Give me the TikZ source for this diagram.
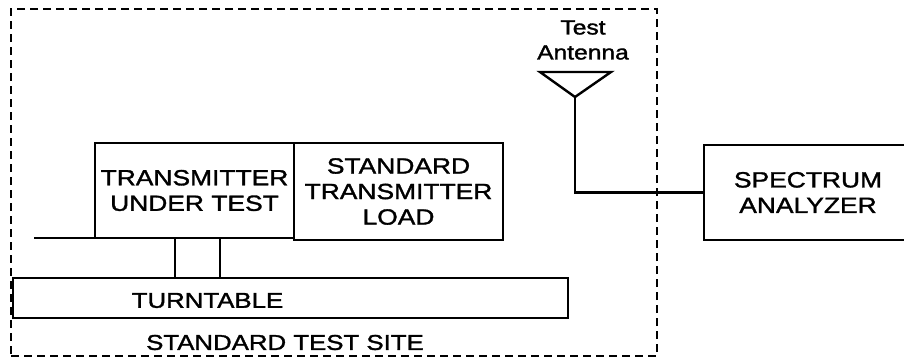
\documentclass[tikz,border=0pt]{standalone}
\usepackage{fontspec}
\setmainfont[FakeStretch=1.2,FakeBold=1.5]{Liberation Sans}
\begin{document}
\begin{tikzpicture}[x=1pt,y=-1pt,line width=2.4pt,outer sep=0pt,
  box/.style={draw,rectangle,inner sep=0pt,align=center,line width=2.4pt,
    font=\fontsize{22}{25.5}\selectfont},
  plain/.style={draw,rectangle,inner sep=0pt,line width=2.4pt},
  sitebox/.style={draw,rectangle,inner sep=0pt,line width=2.6pt,dash pattern=on 8pt off 5pt},
  lbl/.style={inner sep=0pt,align=center,font=\fontsize{21.5}{25}\selectfont}]
\useasboundingbox (0,0) rectangle (904,362);
\clip (0,0) rectangle (904,362);
% standard test site
\node[sitebox,minimum width=646pt,minimum height=347pt] (site) at (334,182.5) {};
\node[lbl] (sitelbl) at (285,342.5) {STANDARD TEST SITE};
% turntable
\node[plain,minimum width=555pt,minimum height=40pt] (tt) at (290.5,298) {};
\node[lbl] (ttlbl) at (207.5,300.5) {TURNTABLE};
% transmitter under test
\node[box,minimum width=199pt,minimum height=95pt] (tx) at (194.5,190.5) {TRANSMITTER\\UNDER TEST};
% standard transmitter load
\node[box,minimum width=209pt,minimum height=97pt] (load) at (398.5,191.5) {STANDARD\\TRANSMITTER\\LOAD};
% spectrum analyzer
\node[box,minimum width=208pt,minimum height=95pt] (sa) at (808,192.5) {SPECTRUM\\ANALYZER};
% antenna
\coordinate (antL) at (540,72);
\coordinate (antR) at (611,72);
\coordinate (apex) at (575,97);
\draw[line join=miter] (antL) -- (antR) -- (apex) -- cycle;
\node[lbl,font=\fontsize{20.5}{25}\selectfont] (antlbl) at (583,40) {Test\\Antenna};
\draw (apex) |- (sa.west);
% support line and legs
\coordinate (lend) at (34,238);
\draw (lend) -- (tx.south west);
\coordinate (leg1) at (175,0);
\coordinate (leg2) at (220,0);
\draw (tx.south -| leg1) -- (tt.north -| leg1);
\draw (tx.south -| leg2) -- (tt.north -| leg2);
\end{tikzpicture}
\end{document}
